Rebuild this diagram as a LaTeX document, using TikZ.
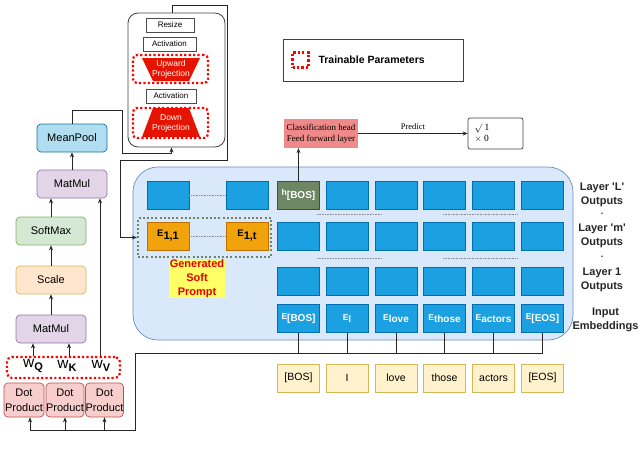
\documentclass[tikz,border=0pt]{standalone}
\usepackage{fontspec}
\setmainfont{Liberation Sans}
\newfontfamily\seriffont{Liberation Serif}
\usetikzlibrary{arrows.meta,calc}
\definecolor{mpf}{HTML}{B1DDF0}\definecolor{mpd}{HTML}{10739E}
\definecolor{mmf}{HTML}{E1D5E7}\definecolor{mmd}{HTML}{9673A6}
\definecolor{smf}{HTML}{D5E8D4}\definecolor{smd}{HTML}{82B366}
\definecolor{scf}{HTML}{FFE6CC}\definecolor{scd}{HTML}{D6B656}
\definecolor{dpf}{HTML}{F8CECC}\definecolor{dpd}{HTML}{B85450}
\definecolor{cellf}{HTML}{1BA1E2}\definecolor{celld}{HTML}{006EAF}
\definecolor{hf}{HTML}{6D8764}\definecolor{hd}{HTML}{3A5431}
\definecolor{orf}{HTML}{F0A30A}\definecolor{ord}{HTML}{BD7000}
\definecolor{tokf}{HTML}{FFF2CC}\definecolor{tokd}{HTML}{D6B656}
\definecolor{bgf}{HTML}{DAE8FC}\definecolor{bgd}{HTML}{6C8EBF}
\definecolor{chf}{HTML}{F08A8A}
\definecolor{trap}{HTML}{E51400}
\definecolor{gdot}{HTML}{6D8764}
\definecolor{yel}{HTML}{FFFF66}
\newcommand{\fsz}[2]{\fontsize{#1}{#2}\selectfont}
\newcommand{\emb}[2]{{\fsz{8.5}{9}\bfseries #1}\raisebox{-2.5pt}{\fsz{10}{11}\bfseries #2}}
\newcommand{\wlbl}[1]{{\fsz{15.5}{15}w}\raisebox{-3pt}{\fsz{11}{11}\bfseries #1}}
\begin{document}
\begin{tikzpicture}[x=1pt,y=-1pt,
 lbox/.style={draw, rounded corners=4pt, minimum width=70pt, minimum height=28pt, inner sep=0pt, font=\fsz{11}{13}, line width=0.7pt},
 cell/.style={draw=celld, fill=cellf, minimum width=42pt, minimum height=28pt, inner sep=0pt, line width=0.6pt, text=white},
 tok/.style={draw=tokd, fill=tokf, minimum width=42pt, minimum height=28pt, inner sep=0pt, font=\fsz{10.5}{12}, line width=0.6pt},
 rdot/.style={draw=red, line width=2.2pt, dash pattern=on 2.2pt off 2.2pt},
 arr/.style={-{Stealth[length=5pt,width=4pt]}, line width=0.7pt, draw=black!85},
 conn/.style={line width=0.7pt, draw=black!85},
 abox/.style={draw=black!70, fill=white, inner sep=0pt, font=\fsz{8}{9}, line width=0.6pt},
 rlbl/.style={align=center, font=\fsz{11}{14}\bfseries, text=black!85},
 dotlbl/.style={inner sep=0pt, font=\fsz{9}{9}\bfseries, text=black!85},
 dotsep/.style={draw=black!45, line width=0.5pt, dash pattern=on 0.8pt off 0.8pt}
 ]
\useasboundingbox (0,0) rectangle (640,459);

% ---- left column ----
\node[lbox, fill=mpf, draw=mpd] (mp) at (72,138) {MeanPool};
\node[lbox, fill=mmf, draw=mmd] (mm2) at (72,184) {MatMul};
\node[lbox, fill=smf, draw=smd] (sm) at (51,231) {SoftMax};
\node[lbox, fill=scf, draw=scd] (sc) at (51,280) {Scale};
\node[lbox, fill=mmf, draw=mmd] (mm1) at (51,329) {MatMul};
\node[rdot, rounded corners=5pt, minimum width=113pt, minimum height=21pt, inner sep=0pt] (wbox) at (63.5,367.5) {};
\node (wq) at (33,366) {\wlbl{Q}};
\node (wk) at (67,366) {\wlbl{K}};
\node (wv) at (101,366) {\wlbl{V}};
\node[lbox, fill=dpf, draw=dpd, minimum width=40pt, minimum height=34pt, align=center, font=\fsz{11}{15}] (dp1) at (24,400) {Dot\\Product};
\node[lbox, fill=dpf, draw=dpd, minimum width=38pt, minimum height=34pt, align=center, font=\fsz{11}{15}] (dp2) at (65,400) {Dot\\Product};
\node[lbox, fill=dpf, draw=dpd, minimum width=37pt, minimum height=34pt, align=center, font=\fsz{11}{15}] (dp3) at (104.5,400) {Dot\\Product};

\draw[arr] (wq |- wbox.north) -- (wq |- mm1.south);
\draw[arr] ([xshift=2pt]wk.center |- wbox.north) -- ([xshift=2pt]wk.center |- mm1.south);
\draw[arr] ([xshift=-1pt]wv.center |- wbox.north) -- ([xshift=-1pt]wv.center |- mm2.south);
\draw[arr] (mm1.north) -- (sc.south);
\draw[arr] (sc.north) -- (sm.south);
\draw[arr] (sm.north) -- (sm.north |- mm2.south);
\draw[arr] (mm2.north) -- (mp.south);

% ---- adapter ----
\node[draw=black!75, rounded corners=10pt, minimum width=97pt, minimum height=134pt, line width=0.8pt, fill=white] (ad) at (176.5,80) {};
\node[abox, minimum width=48pt, minimum height=14pt] (rz) at (170,25) {Resize};
\node[abox, minimum width=53pt, minimum height=14pt] (ac1) at (169.5,44) {Activation};
\fill[trap] (142,58) -- (200,58) -- (189,81) -- (153,81) -- cycle;
\node[rdot, rounded corners=4pt, minimum width=75pt, minimum height=28pt, inner sep=0pt] (upb) at (170.5,69) {};
\node[text=white, align=center, font=\fsz{8.5}{10}] (upt) at (171,69.5) {Upward\\Projection};
\node[abox, minimum width=50pt, minimum height=14pt] (ac2) at (171,96) {Activation};
\fill[trap] (153,108) -- (189,108) -- (200,137) -- (142,137) -- cycle;
\node[rdot, rounded corners=4pt, minimum width=75pt, minimum height=30pt, inner sep=0pt] (dnb) at (170.5,123) {};
\node[text=white, align=center, font=\fsz{8.5}{10}] (dnt) at (171,123) {Down\\Projection};

\coordinate (c1) at (122,110);
\coordinate (c2) at (122,153);
\draw[arr] (mp.north) |- (c1) -- (c2) -| ([xshift=-5pt]ad.south);
\coordinate (c3) at (227,5);
\coordinate (c4) at (120,160);

% ---- legend ----
\node[draw=black!75, line width=0.7pt, minimum width=180pt, minimum height=42pt] (leg) at (373,60) {};
\node[rdot, minimum width=16pt, minimum height=15pt, inner sep=0pt] (legsq) at (300.5,60) {};
\node[anchor=west, font=\fsz{10.5}{12}\bfseries] (legt) at (315,60) {Trainable Parameters};

% ---- big box ----
\node[draw=bgd, fill=bgf, rounded corners=25pt, minimum width=440pt, minimum height=173pt, line width=0.7pt] (bg) at (353,253.5) {};

% soft prompt dotted box
\node[draw=gdot, line width=2.2pt, dash pattern=on 2pt off 2.2pt, minimum width=133pt, minimum height=39pt, inner sep=0pt] (sp) at (204.5,237.5) {};
\draw[arr] ([xshift=-4pt]ad.north) |- (c3) |- (c4) |- (sp.west);

% rows
\node[cell] (a1) at (168,195) {};
\node[cell] (a2) at (247,195) {};
\node[cell, fill=hf, draw=hd] (hbos) at (298.5,195) {\emb{h}{[BOS]}};
\node[cell, fill=orf, draw=ord, text=black] (e11) at (168,236) {{\fsz{9.5}{10}\bfseries E}\raisebox{-3pt}{\fsz{11}{12}\bfseries 1,1}};
\node[cell, fill=orf, draw=ord, text=black] (e1t) at (247,236) {{\fsz{9.5}{10}\bfseries E}\raisebox{-3pt}{\fsz{11}{12}\bfseries 1,t}};
\draw[dotsep] (a1.east) -- (a2.west);
\draw[dotsep] (e11.east) -- (e1t.west);

\foreach \i/\x in {2/347,3/396,4/444.5,5/493.5,6/542.5}{
  \node[cell] (L\i) at (\x,195) {};
}
\foreach \i/\x in {1/298.5,2/347,3/396,4/444.5,5/493.5,6/542.5}{
  \node[cell] (M\i) at (\x,236) {};
  \node[cell] (O\i) at (\x,281.5) {};
}
\node[cell] (e1) at (298.5,318.5) {\emb{E}{[BOS]}};
\node[cell] (e2) at (347,318.5) {\emb{E}{I}};
\node[cell] (e3) at (396,318.5) {\emb{E}{love}};
\node[cell] (e4) at (444.5,318.5) {\emb{E}{those}};
\node[cell] (e5) at (493.5,318.5) {\emb{E}{actors}};
\node[cell] (e6) at (542.5,318.5) {\emb{E}{[EOS]}};

\draw[dotsep] (317,214) -- (382,214);
\draw[dotsep] (443,214) -- (518,214);
\draw[dotsep] (317,258) -- (382,258);
\draw[dotsep] (443,258) -- (518,258);

\node[fill=yel, minimum width=56pt, minimum height=38pt, inner sep=0pt, align=center, text=red!90!black, font=\fsz{11}{14}\bfseries] (gsp) at (197,279) {Generated\\Soft\\Prompt};

% right labels
\node[rlbl] (lL) at (602,195) {Layer \textquotesingle L\textquotesingle\\Outputs};
\node[dotlbl] (d1) at (602,214) {.};
\node[rlbl] (lm) at (602,236) {Layer \textquotesingle m\textquotesingle\\Outputs};
\node[dotlbl] (d2) at (602,257) {.};
\node[rlbl] (l1) at (602,280) {Layer 1\\Outputs};
\node[rlbl] (lin) at (605.5,319.5) {Input\\Embeddings};

% tokens
\node[tok] (t1) at (298.5,378) {[BOS]};
\node[tok] (t2) at (347,378) {I};
\node[tok] (t3) at (396,378) {love};
\node[tok] (t4) at (444.5,378) {those};
\node[tok] (t5) at (493.5,378) {actors};
\node[tok] (t6) at (542.5,378) {[EOS]};

% bus
\coordinate (bus) at (135,353);
\draw[conn] (bus) -- (e6.south |- bus);
\foreach \n in {e1,e2,e3,e4,e5,e6}{ \draw[conn] (\n.south) -- (\n.south |- bus); }
\coordinate (c6) at (30,430);
\draw[conn] (bus) |- (c6);
\draw[arr] (c6) -- (c6 |- dp1.south);
\draw[arr] (dp2.south |- c6) -- (dp2.south);
\draw[arr] (dp3.south |- c6) -- (dp3.south);

% classification head
\node[fill=chf, minimum width=74pt, minimum height=29pt, inner sep=0pt, align=center, font=\seriffont\fsz{9}{11}] (ch) at (321,133.5) {Classification head\\Feed forward layer};
\draw[arr] (hbos.north) -- (hbos.north |- ch.south);
\node[draw=black!75, rounded corners=2pt, line width=0.7pt, minimum width=55pt, minimum height=31pt, inner sep=0pt] (out) at (495.5,133.5) {};
\node[anchor=west, align=left, font=\seriffont\fsz{9.5}{11}] (outt) at (471,133.5) {$\surd$ 1\\$\times$ 0};
\draw[arr] (ch.east) -- node[above, font=\seriffont\fsz{8.5}{9}, pos=0.5] (pred) {Predict} (out.west);
\end{tikzpicture}
\end{document}
